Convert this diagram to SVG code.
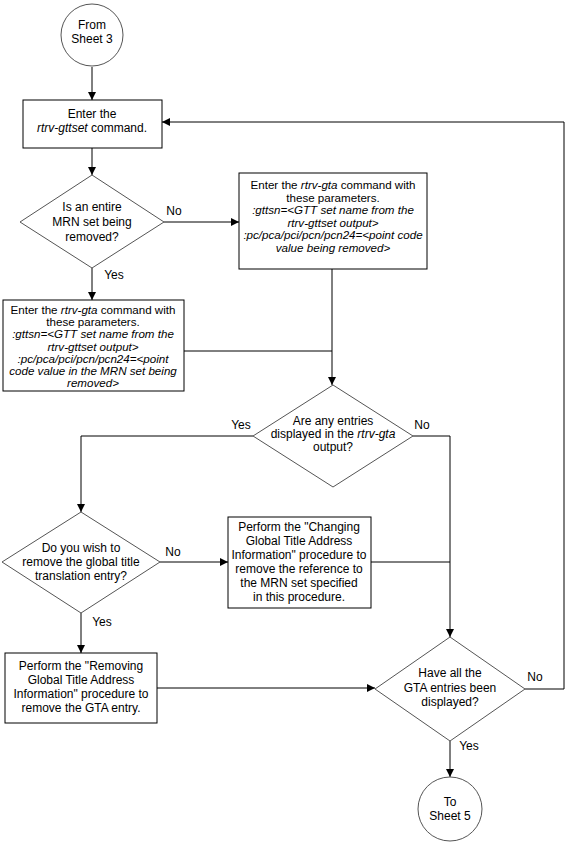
<svg xmlns="http://www.w3.org/2000/svg" width="565" height="842" viewBox="0 0 565 842">
<style>
text{font-family:"Liberation Sans",Arial,sans-serif;font-size:12px;fill:#000;text-anchor:middle}
.d text{font-size:11.6px}
.i{font-style:italic}
.box{fill:#fff;stroke:#000;stroke-width:1}
.dia{fill:#fff;stroke:#555;stroke-width:1}
.cir{fill:#fff;stroke:#555;stroke-width:1}
.c{fill:none;stroke:#000;stroke-width:1}
</style>
<defs>
<marker id="a" markerWidth="8" markerHeight="8" viewBox="0 0 8 8" refX="8" refY="4" orient="auto" markerUnits="userSpaceOnUse">
<path d="M0,0 L8,4 L0,8 z" fill="#000"/>
</marker>
</defs>
<rect width="565" height="842" fill="#fff"/>
<g id="connectors">
<path class="c" d="M92,67 V100" marker-end="url(#a)"/>
<path class="c" d="M92,148 V175" marker-end="url(#a)"/>
<path class="c" d="M164,222 H239" marker-end="url(#a)"/>
<path class="c" d="M92,268 V300" marker-end="url(#a)"/>
<path class="c" d="M332,269 V385" marker-end="url(#a)"/>
<path class="c" d="M184,351 H332"/>
<path class="c" d="M253,436 H81 V512" marker-end="url(#a)"/>
<path class="c" d="M413,436 H450 V637" marker-end="url(#a)"/>
<path class="c" d="M160,562 H228" marker-end="url(#a)"/>
<path class="c" d="M371,562 H450"/>
<path class="c" d="M81,613 V653" marker-end="url(#a)"/>
<path class="c" d="M157,688 H375" marker-end="url(#a)"/>
<path class="c" d="M525,689 H564 V122 H162" marker-end="url(#a)"/>
<path class="c" d="M450,741 V777" marker-end="url(#a)"/>
</g>
<g id="labels">
<text x="174" y="215">No</text>
<text x="114" y="279">Yes</text>
<text x="241" y="429">Yes</text>
<text x="422" y="429">No</text>
<text x="173" y="556">No</text>
<text x="102" y="626">Yes</text>
<text x="535" y="681">No</text>
<text x="469" y="750">Yes</text>
</g>
<g id="start">
<circle class="cir" cx="92" cy="35" r="31"/>
<text x="92" y="29">From</text>
<text x="92" y="43">Sheet 3</text>
</g>
<g id="box1">
<rect class="box" x="23" y="100" width="139" height="48"/>
<text x="92" y="118">Enter the</text>
<text x="92" y="132"><tspan class="i">rtrv-gttset</tspan> command.</text>
</g>
<g id="dia1">
<polygon class="dia" points="92,175 164,222 92,268 20,222"/>
<text x="92" y="211">Is an entire</text>
<text x="92" y="226">MRN set being</text>
<text x="92" y="241">removed?</text>
</g>
<g id="box2" class="d">
<rect class="box" x="239" y="173" width="188" height="96"/>
<text x="333" y="189">Enter the <tspan class="i">rtrv-gta</tspan> command with</text>
<text x="333" y="202">these parameters.</text>
<text x="333" y="214" class="i">:gttsn=&lt;GTT set name from the</text>
<text x="333" y="227" class="i">rtrv-gttset output&gt;</text>
<text x="333" y="239" class="i">:pc/pca/pci/pcn/pcn24=&lt;point code</text>
<text x="333" y="252" class="i">value being removed&gt;</text>
</g>
<g id="box3" class="d">
<rect class="box" x="3" y="300" width="181" height="91"/>
<text x="93" y="314">Enter the <tspan class="i">rtrv-gta</tspan> command with</text>
<text x="93" y="326">these parameters.</text>
<text x="93" y="338" class="i">:gttsn=&lt;GTT set name from the</text>
<text x="93" y="351" class="i">rtrv-gttset output&gt;</text>
<text x="93" y="363" class="i">:pc/pca/pci/pcn/pcn24=&lt;point</text>
<text x="93" y="375" class="i">code value in the MRN set being</text>
<text x="93" y="387" class="i">removed&gt;</text>
</g>
<g id="dia2">
<polygon class="dia" points="333,385 413,436 333,487 253,436"/>
<text x="333" y="425">Are any entries</text>
<text x="333" y="438">displayed in the <tspan class="i">rtrv-gta</tspan></text>
<text x="333" y="451">output?</text>
</g>
<g id="dia3">
<polygon class="dia" points="81,512 160,562 81,613 2,562"/>
<text x="81" y="552">Do you wish to</text>
<text x="81" y="566">remove the global title</text>
<text x="81" y="580">translation entry?</text>
</g>
<g id="box4">
<rect class="box" x="228" y="517" width="143" height="91"/>
<text x="299" y="531">Perform the "Changing</text>
<text x="299" y="545">Global Title Address</text>
<text x="299" y="559">Information" procedure to</text>
<text x="299" y="573">remove the reference to</text>
<text x="299" y="587">the MRN set specified</text>
<text x="299" y="601">in this procedure.</text>
</g>
<g id="box5">
<rect class="box" x="5" y="653" width="152" height="70"/>
<text x="81" y="670">Perform the "Removing</text>
<text x="81" y="684">Global Title Address</text>
<text x="81" y="698">Information" procedure to</text>
<text x="81" y="712">remove the GTA entry.</text>
</g>
<g id="dia4">
<polygon class="dia" points="450,637 525,689 450,741 375,689"/>
<text x="450" y="677">Have all the</text>
<text x="450" y="692">GTA entries been</text>
<text x="450" y="706">displayed?</text>
</g>
<g id="end">
<circle class="cir" cx="450" cy="809" r="32"/>
<text x="450" y="806">To</text>
<text x="450" y="820">Sheet 5</text>
</g>
</svg>
